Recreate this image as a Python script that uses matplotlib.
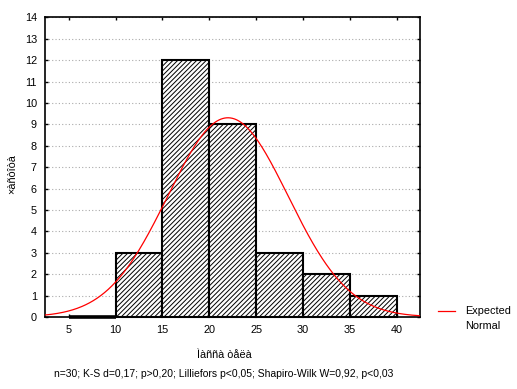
import numpy as np
import matplotlib
matplotlib.use("Agg")
import matplotlib.pyplot as plt
from matplotlib.lines import Line2D

plt.rcParams['font.family'] = ['Liberation Sans', 'DejaVu Sans']
plt.rcParams['hatch.linewidth'] = 0.7

bin_edges = [5, 10, 15, 20, 25, 30, 35, 40]
counts = [0, 3, 12, 9, 3, 2, 1]
n_obs = 30
fit_mean = 22.0
fit_sd = 6.43
x_ticks = [5, 10, 15, 20, 25, 30, 35, 40]
y_ticks = list(range(0, 15))
xlabel = "Ìàññà òåëà"
ylabel = "×àñòîòà"
footer = "n=30; K-S d=0,17; p>0,20; Lilliefors p<0,05; Shapiro-Wilk W=0,92, p<0,03"
legend_lines = ["Expected", "Normal"]

W, H = 517, 389
fig = plt.figure(figsize=(W / 100, H / 100), dpi=100)
ax = fig.add_axes([45.3 / W, 1 - 317 / H, (420 - 45.3) / W, (317 - 17.3) / H])

lefts = np.array(bin_edges[:-1])
widths = np.diff(bin_edges)
cnt = np.array(counts)
ax.bar(lefts, cnt, width=widths, align='edge', color='white',
       edgecolor='black', linewidth=1.5, hatch='///////', zorder=5, clip_on=False)
# empty bins are drawn as a thick edge on the baseline
empty = cnt == 0
ax.hlines(cnt[empty], lefts[empty], lefts[empty] + widths[empty], color='black',
          linewidth=2.6, zorder=5, clip_on=False)

xs = np.linspace(2.5, 42.5, 400)
binw = widths[0]
ys = n_obs * binw / (fit_sd * np.sqrt(2 * np.pi)) * np.exp(-0.5 * ((xs - fit_mean) / fit_sd) ** 2)
ax.plot(xs, ys, color='#ff0000', linewidth=0.9, zorder=6)

ax.set_xlim(2.5, 42.5)
ax.set_ylim(0, 14)
ax.set_xticks(x_ticks)
ax.set_yticks(y_ticks)
ax.yaxis.grid(True, linestyle=(0, (1, 2)), color='#aaaaaa', linewidth=0.8, zorder=0)
ax.set_axisbelow(True)
ax.tick_params(direction='in', length=2, width=1, labelsize=7.8, top=True, right=True,
               labeltop=False, labelright=False, pad=6)
for s in ax.spines.values():
    s.set_linewidth(1.2)
    s.set_zorder(4)

ax.set_xlabel(xlabel, fontsize=7.8)
ax.set_ylabel(ylabel, fontsize=7.8)
ax.xaxis.set_label_coords((224 - 45.3) / (420 - 45.3), -(355 - 317) / (317 - 17.3))
ax.yaxis.set_label_coords(-(45.3 - 12) / (420 - 45.3), (317 - 174) / (317 - 17.3))
ax.xaxis.label.set_va('center')
ax.yaxis.label.set_va('center')

fig.text(224 / W, 1 - 374 / H, footer, fontsize=7.5, ha='center', va='center')

fig.add_artist(Line2D([438 / W, 455 / W], [1 - 311 / H] * 2, color='#ff0000', linewidth=0.9))
fig.text(465 / W, 1 - 311 / H, legend_lines[0], fontsize=7.8, ha='left', va='center')
fig.text(465 / W, 1 - 326 / H, legend_lines[1], fontsize=7.8, ha='left', va='center')

fig.savefig("out.png", dpi=100)
